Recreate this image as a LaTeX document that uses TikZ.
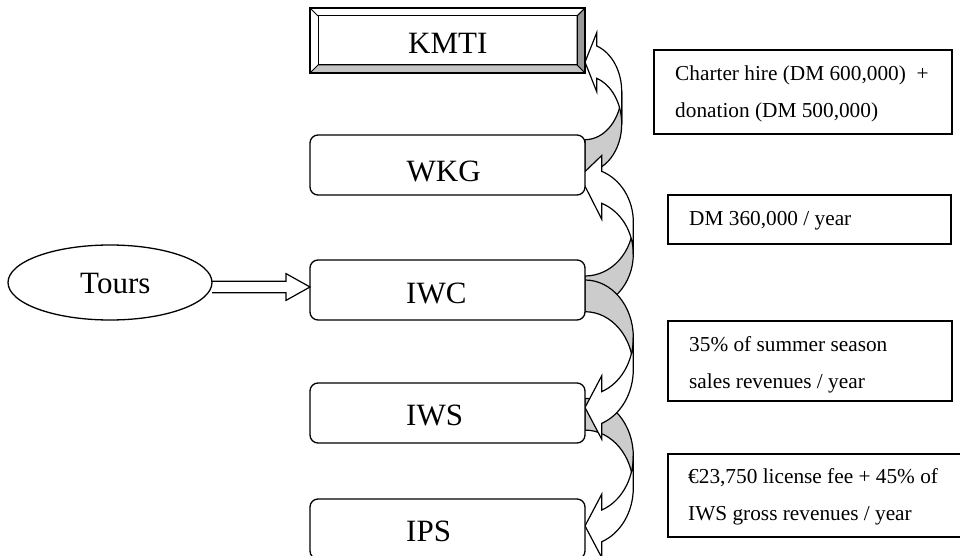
\documentclass[tikz,border=0pt]{standalone}
\usepackage{fontspec}
\setmainfont{Liberation Serif}
\usetikzlibrary{calc,backgrounds,shapes.geometric}
\definecolor{backgray}{HTML}{CCCCCC}
\definecolor{bevdark}{HTML}{999999}
\definecolor{bevlight}{HTML}{C4C4C4}
\newcommand\cvarrow[9]{% #1 tail point, #2 yscale, #3 w, #4 hR, #5 th, #6 ah, #7 dh, #8 tip dx, #9 tip dy
  \pgfmathsetmacro\cva{acos(#6/#3)}%
  \pgfmathsetmacro\cvdy{#4*sin(\cva)}%
  \begin{scope}[shift={(#1)}, yscale=#2]
    \filldraw[carr, fill=backgray] (0,0) arc[start angle=-90,end angle=0,x radius=#3,y radius=#4]
      -- ++(0,#5) arc[start angle=0,end angle=-90,x radius=#3,y radius=#4] -- cycle;
    \filldraw[carr, fill=white] (#3,#4) arc[start angle=0,end angle=\cva,x radius=#3,y radius=#4]
      -- ++(0,-#7) -- (#8,{#4+\cvdy+#5/2+#9}) -- (#6,{#4+\cvdy+#5+#7}) -- (#6,{#4+\cvdy+#5})
      arc[start angle=\cva,end angle=0,x radius=#3,y radius=#4] -- cycle;
  \end{scope}}
\begin{document}
\begin{tikzpicture}[x=1pt,y=-1pt,
  carr/.style={draw=black, line width=1.2pt, line join=miter},
  rbox/.style={draw, line width=1.3pt, rounded corners=8pt, fill=white, minimum width=275pt, minimum height=60pt, inner sep=0pt, outer sep=0pt, anchor=north west},
  tbox/.style={draw, line width=1.5pt, fill=white, inner sep=0pt, outer sep=0pt, anchor=north west},
  blbl/.style={font=\fontsize{31}{37}\selectfont, inner sep=0pt, anchor=base west},
  tlbl/.style={font=\fontsize{21.3}{37}\selectfont, inner sep=0pt, anchor=base west},
  barrow/.style={draw, line width=1.2pt, fill=white, line join=miter}
]
\useasboundingbox (0,0) rectangle (960,556);

% KMTI bevel box
\node[draw, line width=1.3pt, fill=white, minimum width=275pt, minimum height=65pt, inner sep=0pt, outer sep=0pt, anchor=north west] (kmti) at (310,8) {};
\coordinate (kNW) at ($(kmti.north west)+(8,8)$);
\coordinate (kNE) at ($(kmti.north east)+(-8,8)$);
\coordinate (kSE) at ($(kmti.south east)+(-8,-8)$);
\coordinate (kSW) at ($(kmti.south west)+(8,-8)$);
\filldraw[fill=bevdark, line width=1pt] (kmti.north east) -- (kmti.south east) -- (kSE) -- (kNE) -- cycle;
\filldraw[fill=bevlight, line width=1pt] (kmti.south west) -- (kmti.south east) -- (kSE) -- (kSW) -- cycle;
\draw[line width=1pt] (kmti.north west) -- (kNW) (kmti.north east) -- (kNE);
\draw[line width=1pt] (kNW) rectangle (kSE);
\draw[line width=1.3pt] (kmti.north west) rectangle (kmti.south east);
\node[blbl] (kmtiT) at (408,53.5) {KMTI};

% rounded boxes
\node[rbox] (wkg) at (310,135) {};
\node[rbox] (iwc) at (310,260) {};
\node[rbox] (iws) at (310,383) {};
\node[rbox] (ips) at (310,499) {};
\node[blbl] (wkgT) at (406.5,182) {WKG};
\node[blbl] (iwcT) at (406,303) {IWC};
\node[blbl] (iwsT) at (406,425) {IWS};
\node[blbl] (ipsT) at (406,541.5) {IPS};

% curved arrows (behind boxes)
\begin{scope}[on background layer]
  \cvarrow{$(wkg.east)+(0,7)$}{-1}{36.7}{48.1}{32.3}{11.7}{13.3}{0}{0}
  \cvarrow{$(iws.east)+(0,-14.6)$}{1}{48.3}{57.6}{31.7}{16.7}{15.8}{0}{0}
  \cvarrow{$(iwc.east)+(0,18)$}{-1}{48.3}{54}{32}{16.7}{15.8}{-5}{11}
  \cvarrow{$(iwc.east)+(0,-10)$}{1}{48.3}{57.6}{31.7}{16.7}{15.8}{0}{0}
\end{scope}

% Tours
\coordinate (tip) at ($(iwc.west)+(0,-3)$);
\draw[barrow] let \p1=(212,287), \p2=(tip) in
  (\x1,\y2+5.8pt) -- (\x2-24pt,\y2+5.8pt) -- (\x2-24pt,\y2+13.4pt) -- (\p2)
  -- (\x2-24pt,\y2-13.4pt) -- (\x2-24pt,\y2-5.8pt) -- (\x1,\y2-5.8pt);
\node[draw, ellipse, line width=1.3pt, fill=white, minimum width=204pt, minimum height=75pt, inner sep=0pt, outer sep=0pt] (tours) at (110,282.5) {};
\node[blbl] (toursT) at (80,293.3) {Tours};

% text boxes
\node[tbox, minimum width=298pt, minimum height=84pt] (b1) at (654,50) {};
\node[tlbl] (b1a) at (675,80.5) {Charter hire (DM 600,000)\ \ +};
\node[tlbl] (b1b) at (675,117.5) {donation (DM 500,000)};
\node[tbox, minimum width=283pt, minimum height=49pt] (b2) at (668,195) {};
\node[tlbl] (b2a) at (689,225) {DM 360,000 / year};
\node[tbox, minimum width=284pt, minimum height=80pt] (b3) at (668,321) {};
\node[tlbl] (b3a) at (689,351) {35\% of summer season};
\node[tlbl] (b3b) at (689,388) {sales revenues / year};
\node[tbox, minimum width=300pt, minimum height=83pt] (b4) at (668,454) {};
\node[tlbl] (b4a) at (688,483.5) {€23,750 license fee + 45\% of};
\node[tlbl] (b4b) at (688,520.5) {IWS gross revenues / year};
\end{tikzpicture}
\end{document}
